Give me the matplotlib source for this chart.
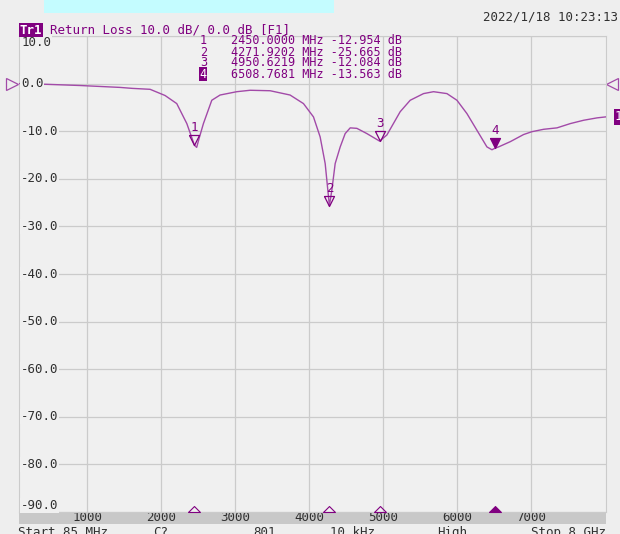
import matplotlib
matplotlib.use("Agg")
import matplotlib.pyplot as plt
from matplotlib.patches import Rectangle

# Return loss trace
freq_mhz = [85, 365, 905, 1445, 1608, 1851, 2053, 2211, 2347, 2450, 2480, 2513,
            2571, 2684, 2796, 3022, 3202, 3472, 3741, 3922, 4057, 4147, 4215,
            4272, 4305, 4350, 4418, 4485, 4553, 4643, 4778, 4950, 5048, 5228,
            5363, 5543, 5678, 5859, 5994, 6129, 6264, 6399, 6467, 6509, 6556,
            6714, 6894, 7007, 7164, 7345, 7525, 7705, 7886, 8000]
rl_db = [0.0, -0.1, -0.4, -0.8, -1.0, -1.2, -2.5, -4.2, -8.4, -12.95, -13.4, -11.5,
         -8.4, -3.5, -2.4, -1.7, -1.4, -1.5, -2.4, -4.2, -7.0, -11.2, -16.8,
         -25.67, -22.4, -16.8, -13.3, -10.5, -9.3, -9.4, -10.5, -12.08, -10.8, -5.9,
         -3.5, -2.1, -1.7, -2.1, -3.5, -6.3, -9.8, -13.3, -13.9, -13.56, -13.3,
         -12.2, -10.7, -10.1, -9.6, -9.3, -8.4, -7.7, -7.2, -7.0]

# Marker table
marker_ids = ["1", "2", "3", "4"]
marker_freq = [2450.0000, 4271.9202, 4950.6219, 6508.7681]
marker_db = [-12.954, -25.665, -12.084, -13.563]
active_marker = "4"

x_ticks = [1000, 2000, 3000, 4000, 5000, 6000, 7000]
y_ticks = [10.0, 0.0, -10.0, -20.0, -30.0, -40.0, -50.0, -60.0, -70.0, -80.0, -90.0]
status_items = ["Start 85 MHz", "C?", "801", "10 kHz", "High", "Stop 8 GHz"]
status_x = [18, 153, 253, 330, 437, 606]

PURPLE = "#800080"
TRACE = "#a24aa8"
GRID = "#cbcbcb"
TXT = "#303030"

plt.rcParams["font.family"] = ["DejaVu Sans Mono"]
plt.rcParams["font.size"] = 9

W, H = 620, 534


def fx(px):
    return px / W


def fy(py):
    return 1 - py / H


fig = plt.figure(figsize=(6.2, 5.34), dpi=100, facecolor="#eeeeee")

# main plot area
ax = fig.add_axes([fx(19.3), fy(512), (605.5 - 19.3) / W, (512 - 36) / H])
ax.set_zorder(2)
ax.set_facecolor("#f0f0f0")
ax.set_xlim(85, 8000)
ax.set_ylim(-90, 10)
ax.set_xticks(x_ticks)
ax.set_yticks(y_ticks)
ax.tick_params(length=0, labelbottom=False, labelleft=False)
ax.grid(True, color=GRID, lw=0.9)
for s in ax.spines.values():
    s.set_color(GRID)

ax.plot(freq_mhz, rl_db, color=TRACE, lw=1.0, zorder=3)

# y labels sit inside the plot
for v in y_ticks:
    va = "center"
    if v == y_ticks[0]:
        va = "top"
    elif v == y_ticks[-1]:
        va = "bottom"
    ax.text(0.003, v, f"{v:.1f}", transform=ax.get_yaxis_transform(), ha="left", va=va,
            color=TXT, zorder=4,
            bbox=dict(facecolor="#f0f0f0", edgecolor="none", pad=0.6))

# marker triangles, tip on the trace
down_tri = [(-5, 10), (5, 10), (0, 0), (-5, 10)]
up_tri = [(-6, 0), (6, 0), (0, 6), (-6, 0)]
for mid, f, v in zip(marker_ids, marker_freq, marker_db):
    filled = mid == active_marker
    ax.plot([f], [v], marker=down_tri, ms=14.4, mec=PURPLE, mew=0.9,
            mfc=PURPLE if filled else "none", ls="none", zorder=5)
    ax.annotate(mid, (f, v), xytext=(0, 12.5), textcoords="offset points",
                ha="center", va="center", color=PURPLE, zorder=5)
    ax.plot([f], [0], marker=up_tri, ms=8.6, mec=PURPLE, mew=0.8,
            mfc=PURPLE if filled else "none", ls="none", clip_on=False,
            transform=ax.get_xaxis_transform(), zorder=6)

# reference level arrows and trace tag
ax.plot([-0.0125], [0], marker=">", ms=8, mfc="none", mec=TRACE, mew=0.9,
        transform=ax.get_yaxis_transform(), clip_on=False)
ax.plot([1.011], [0], marker="<", ms=8, mfc="none", mec=TRACE, mew=0.9,
        transform=ax.get_yaxis_transform(), clip_on=False)
ax.text(1.016, rl_db[-1], "1", transform=ax.get_yaxis_transform(), ha="left",
        va="center", color="white", clip_on=False,
        bbox=dict(facecolor=PURPLE, edgecolor="none", pad=0.8))

# grey frequency bar below the plot
bar = fig.add_axes([fx(19.3), fy(523.5), (605.5 - 19.3) / W, 11.5 / H])
bar.set_zorder(1)
bar.set_facecolor("#c8c8c8")
bar.set_xlim(85, 8000)
bar.set_xticks([])
bar.set_yticks([])
for s in bar.spines.values():
    s.set_visible(False)
for f in x_ticks:
    bar.text(f, 0.5, str(f), transform=bar.get_xaxis_transform(), ha="center",
             va="center", color=TXT)

# status line, cut off by the bottom edge as in the screenshot
for lbl, px in zip(status_items, status_x):
    fig.text(fx(px), fy(526), lbl, ha="right" if lbl.startswith("Stop") else "left",
             va="top", color=TXT)

# header
fig.text(fx(618), fy(17), "2022/1/18 10:23:13", ha="right", va="center", color=TXT)
fig.text(fx(20), fy(30), "Tr1", ha="left", va="center", color="white", weight="bold",
         bbox=dict(facecolor=PURPLE, edgecolor="none", pad=0.6))
fig.text(fx(50), fy(30), "Return Loss 10.0 dB/ 0.0 dB [F1]", ha="left", va="center",
         color=PURPLE)
for i, (mid, f, v) in enumerate(zip(marker_ids, marker_freq, marker_db)):
    yy = fy(41 + i * 11)
    if mid == active_marker:
        fig.text(fx(207), yy, mid, ha="right", va="center", color="white", fontsize=8.5,
                 bbox=dict(facecolor=PURPLE, edgecolor="none", pad=0.3))
    else:
        fig.text(fx(207), yy, mid, ha="right", va="center", color=PURPLE, fontsize=8.5)
    fig.text(fx(231), yy, f"{f:.4f} MHz {v:.3f} dB", ha="left", va="center",
             color=PURPLE, fontsize=8.5)

# cyan caption box cropped at the top of the screenshot
fig.patches.append(Rectangle((fx(44), fy(13)), (334 - 44) / W, 13 / H,
                             transform=fig.transFigure, facecolor="#c4fcff",
                             edgecolor="none", zorder=0))
fig.text(fx(95), fy(0.5), "Antenna S11 Test", ha="left", va="baseline", fontsize=22,
         weight="bold", color="black", family=["DejaVu Sans"])

fig.savefig("out.png", dpi=100, facecolor=fig.get_facecolor())
